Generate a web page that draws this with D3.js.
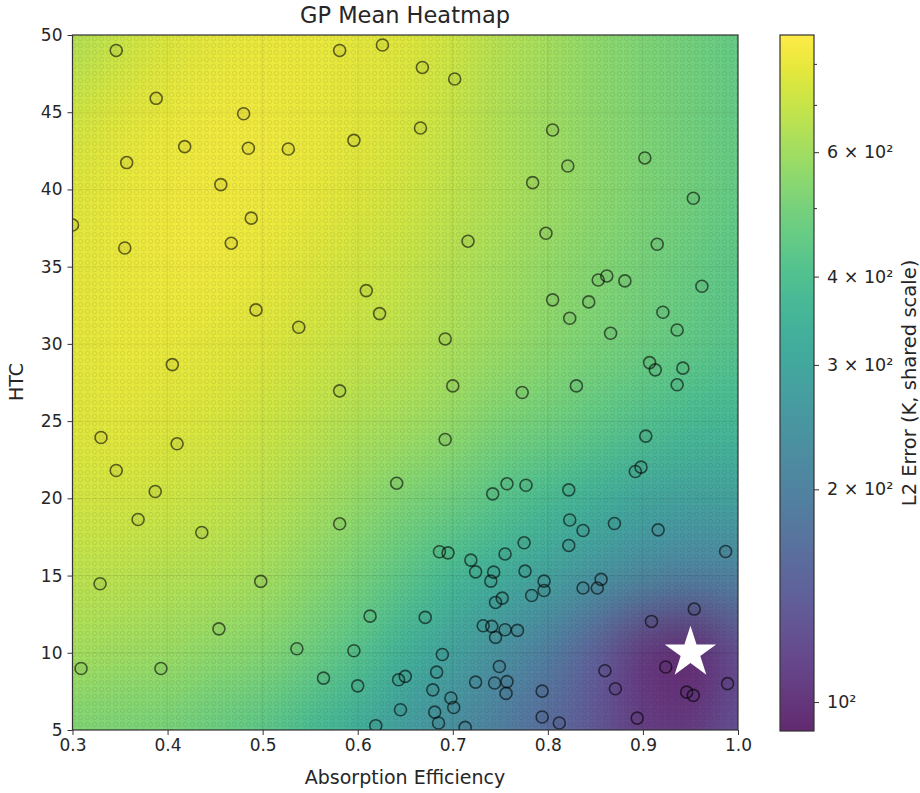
<!DOCTYPE html>
<html>
<head>
<meta charset="utf-8">
<script src="https://cdn.jsdelivr.net/npm/d3@7"></script>
<style>
    body { margin: 0; background: #fff; }
    svg text { font-family: "DejaVu Sans", sans-serif; fill: #262626; }
</style>
</head>
<body>
<div id="chart"></div>
<script>
// GP mean surface on a 0.05 x 5 grid (K)
const gridX = [0.3, 0.35, 0.4, 0.45, 0.5, 0.55, 0.6, 0.65, 0.7, 0.75, 0.8, 0.85, 0.9, 0.95, 1.0];
const gridY = [50, 45, 40, 35, 30, 25, 20, 15, 10, 5];
const meanGrid = [
    [640, 700, 750, 785, 803, 803, 785, 767, 717, 655, 612, 559, 521, 488, 455],
    [717, 767, 803, 821, 821, 803, 785, 750, 700, 640, 598, 559, 521, 488, 455],
    [767, 803, 821, 821, 821, 803, 767, 733, 685, 640, 598, 559, 521, 488, 455],
    [785, 803, 821, 821, 803, 767, 733, 700, 655, 612, 571, 534, 499, 466, 435],
    [785, 803, 803, 785, 767, 733, 700, 670, 626, 585, 546, 510, 477, 445, 416],
    [767, 785, 767, 750, 717, 685, 640, 612, 571, 521, 488, 445, 407, 380, 363],
    [733, 733, 717, 700, 670, 626, 571, 521, 477, 425, 380, 339, 303, 283, 283],
    [670, 670, 655, 640, 612, 559, 499, 435, 371, 324, 283, 247, 215, 197, 201],
    [612, 598, 585, 559, 534, 477, 416, 339, 283, 236, 192, 143, 104, 95, 120],
    [521, 510, 499, 466, 435, 380, 324, 270, 231, 192, 161, 131, 107, 104, 125]
];

// sampled points
const sampleX = [0.346, 0.581, 0.626, 0.388, 0.480, 0.418, 0.485, 0.527, 0.596, 0.357, 0.456, 0.488, 0.300, 0.355, 0.467,
    0.609, 0.623, 0.493, 0.538, 0.405,
    0.668, 0.702, 0.666, 0.805, 0.902, 0.821, 0.784, 0.953, 0.716, 0.798, 0.915, 0.862, 0.853, 0.881, 0.962, 0.805, 0.843,
    0.823, 0.921, 0.936, 0.866, 0.692, 0.907, 0.913, 0.942,
    0.581, 0.330, 0.410, 0.346, 0.387, 0.641, 0.369, 0.436, 0.581, 0.329, 0.498, 0.454, 0.613, 0.309, 0.393, 0.536, 0.596,
    0.564, 0.600, 0.643, 0.650, 0.645, 0.619,
    0.700, 0.773, 0.830, 0.936, 0.692, 0.903, 0.898, 0.892, 0.742, 0.757, 0.777, 0.822, 0.823, 0.837, 0.870, 0.916, 0.987,
    0.822, 0.775, 0.755, 0.686, 0.695, 0.719, 0.724, 0.743, 0.740, 0.776, 0.796, 0.796, 0.783, 0.837, 0.852, 0.856, 0.752,
    0.745, 0.954, 0.909, 0.671, 0.732, 0.741, 0.755, 0.768, 0.745, 0.689, 0.749, 0.683, 0.860, 0.924, 0.724, 0.744, 0.757,
    0.756, 0.679, 0.698, 0.701, 0.794, 0.871, 0.946, 0.953, 0.989, 0.681, 0.685, 0.713, 0.794, 0.812, 0.894];
const sampleY = [49.0, 49.0, 49.35, 45.9, 44.9, 42.77, 42.67, 42.62, 43.18, 41.74, 40.31, 38.14, 37.7, 36.21, 36.52,
    33.45, 31.96, 32.2, 31.08, 28.66,
    47.9, 47.15, 43.98, 43.85, 42.04, 41.52, 40.44, 39.43, 36.65, 37.16, 36.45, 34.4, 34.14, 34.08, 33.73, 32.85, 32.72,
    31.66, 32.05, 30.9, 30.69, 30.32, 28.79, 28.32, 28.43,
    26.96, 23.94, 23.53, 21.8, 20.44, 20.98, 18.63, 17.79, 18.35, 14.47, 14.62, 11.55, 12.37, 8.98, 8.98, 10.26, 10.13,
    8.36, 7.86, 8.25, 8.47, 6.31, 5.28,
    27.28, 26.85, 27.28, 27.35, 23.81, 24.03, 22.02, 21.74, 20.29, 20.94, 20.85, 20.55, 18.6, 17.92, 18.37, 17.96, 16.56,
    16.95, 17.12, 16.4, 16.54, 16.47, 16.0, 15.24, 15.22, 14.64, 15.29, 14.64, 14.03, 13.71, 14.19, 14.19, 14.75, 13.54,
    13.26, 12.83, 12.03, 12.29, 11.75, 11.71, 11.49, 11.45, 11.0, 9.89, 9.11, 8.75, 8.84, 9.08, 8.1, 8.04, 8.13,
    7.37, 7.6, 7.07, 6.46, 7.52, 7.67, 7.45, 7.24, 8.0, 6.16, 5.45, 5.17, 5.84, 5.45, 5.77];

const bestPoint = [0.95, 10.0];

const xTicks = [0.3, 0.4, 0.5, 0.6, 0.7, 0.8, 0.9, 1.0];
const yTicks = [5, 10, 15, 20, 25, 30, 35, 40, 45, 50];
const cbDomain = [91, 879];
const cbTicks = [100, 200, 300, 400, 600];
const cbMinorTicks = [500, 700, 800];

class HeatmapChart {

    init() {
        this.svg = d3.select('#chart').append('svg')
            .attr('width', 920)
            .attr('height', 793);

        this.x = d3.scaleLinear().domain([0.3, 1.0]).range([72.5, 738]);
        this.y = d3.scaleLinear().domain([5, 50]).range([730, 35]);
        this.color = d3.scaleSequentialLog(d3.interpolateViridis).domain(cbDomain);

        let defs = this.svg.append('defs');
        defs.append('clipPath').attr('id', 'plotClip')
            .append('rect')
            .attr('x', this.x(0.3)).attr('y', this.y(50))
            .attr('width', this.x(1.0) - this.x(0.3))
            .attr('height', this.y(5) - this.y(50));
        let pat = defs.append('pattern').attr('id', 'dots')
            .attr('width', 7).attr('height', 7)
            .attr('patternUnits', 'userSpaceOnUse');
        pat.append('circle').attr('cx', 3.5).attr('cy', 3.5).attr('r', 2.2)
            .attr('fill', 'none').attr('stroke', '#000').attr('stroke-opacity', 0.07);

        this.plot = this.svg.append('g').attr('clip-path', 'url(#plotClip)');

        this.drawHeatmap();
        this.drawPoints();
        this.drawAxes();
        this.drawColorbar();
    }

    drawHeatmap() {
        let small = document.createElement('canvas');
        small.width = gridX.length;
        small.height = gridY.length;
        let ctx = small.getContext('2d');
        meanGrid.forEach((row, j) => {
            row.forEach((v, i) => {
                ctx.fillStyle = this.color(v);
                ctx.fillRect(i, j, 1, 1);
            });
        });

        // grid values sit on cell centres, so the image overhangs by half a cell
        let cw = this.x(gridX[1]) - this.x(gridX[0]);
        let ch = this.y(gridY[1]) - this.y(gridY[0]);
        let big = document.createElement('canvas');
        big.width = Math.round(cw * gridX.length);
        big.height = Math.round(ch * gridY.length);
        let bctx = big.getContext('2d');
        bctx.imageSmoothingEnabled = true;
        bctx.imageSmoothingQuality = 'high';
        bctx.drawImage(small, 0, 0, big.width, big.height);

        this.plot.append('image')
            .attr('href', big.toDataURL())
            .attr('x', this.x(gridX[0]) - cw / 2)
            .attr('y', this.y(gridY[0]) - ch / 2)
            .attr('width', cw * gridX.length)
            .attr('height', ch * gridY.length)
            .attr('preserveAspectRatio', 'none')
            .attr('opacity', 0.84);

        this.plot.append('rect')
            .attr('x', this.x(0.3)).attr('y', this.y(50))
            .attr('width', this.x(1.0) - this.x(0.3))
            .attr('height', this.y(5) - this.y(50))
            .attr('fill', 'url(#dots)');

        // faint grid
        this.plot.selectAll('.vgrid').data(xTicks).enter().append('line')
            .attr('x1', d => this.x(d)).attr('x2', d => this.x(d))
            .attr('y1', this.y(5)).attr('y2', this.y(50))
            .attr('stroke', '#000').attr('stroke-opacity', 0.08);
        this.plot.selectAll('.hgrid').data(yTicks).enter().append('line')
            .attr('x1', this.x(0.3)).attr('x2', this.x(1.0))
            .attr('y1', d => this.y(d)).attr('y2', d => this.y(d))
            .attr('stroke', '#000').attr('stroke-opacity', 0.08);
    }

    drawPoints() {
        this.plot.selectAll('circle.sample').data(sampleX).enter().append('circle')
            .attr('class', 'sample')
            .attr('cx', d => this.x(d))
            .attr('cy', (d, i) => this.y(sampleY[i]))
            .attr('r', 6)
            .attr('fill', '#000')
            .attr('fill-opacity', 0.04)
            .attr('stroke', '#000')
            .attr('stroke-opacity', 0.58)
            .attr('stroke-width', 1.6);

        this.plot.append('path')
            .attr('d', d3.symbol(d3.symbolStar, 820)())
            .attr('transform', 'translate(' + this.x(bestPoint[0]) + ',' + this.y(bestPoint[1]) + ')')
            .attr('fill', '#fff');
    }

    drawAxes() {
        let xAxis = this.svg.append('g')
            .attr('transform', 'translate(0,' + this.y(5) + ')')
            .call(d3.axisBottom(this.x).tickValues(xTicks).tickFormat(d3.format('.1f')).tickSize(5).tickPadding(4));
        let yAxis = this.svg.append('g')
            .attr('transform', 'translate(' + this.x(0.3) + ',0)')
            .call(d3.axisLeft(this.y).tickValues(yTicks).tickFormat(d3.format('d')).tickSize(5).tickPadding(5));
        [xAxis, yAxis].forEach(ax => {
            ax.select('.domain').remove();
            ax.selectAll('line').attr('stroke', '#333');
            ax.selectAll('text').attr('font-size', 17).attr('fill', '#262626');
        });

        this.svg.append('rect')
            .attr('x', this.x(0.3)).attr('y', this.y(50))
            .attr('width', this.x(1.0) - this.x(0.3))
            .attr('height', this.y(5) - this.y(50))
            .attr('fill', 'none').attr('stroke', '#333').attr('stroke-width', 1.2);

        this.svg.append('text')
            .attr('x', 405).attr('y', 23)
            .attr('text-anchor', 'middle')
            .attr('font-size', 22.5)
            .text('GP Mean Heatmap');

        this.svg.append('text')
            .attr('x', 405).attr('y', 784)
            .attr('text-anchor', 'middle')
            .attr('font-size', 19)
            .text('Absorption Efficiency');

        this.svg.append('text')
            .attr('transform', 'translate(23,382) rotate(-90)')
            .attr('text-anchor', 'middle')
            .attr('font-size', 19)
            .text('HTC');
    }

    drawColorbar() {
        let top = 35, bottom = 731, left = 780, w = 34;
        let cbScale = d3.scaleLog().domain(cbDomain).range([bottom, top]);

        let grad = this.svg.select('defs').append('linearGradient')
            .attr('id', 'cbGrad')
            .attr('x1', 0).attr('y1', 1).attr('x2', 0).attr('y2', 0);
        d3.range(0, 41).forEach(k => {
            let py = bottom - (bottom - top) * k / 40;
            grad.append('stop')
                .attr('offset', (k / 40 * 100) + '%')
                .attr('stop-color', this.color(cbScale.invert(py)));
        });

        this.svg.append('rect')
            .attr('x', left).attr('y', top)
            .attr('width', w).attr('height', bottom - top)
            .attr('fill', 'url(#cbGrad)')
            .attr('opacity', 0.84);
        this.svg.append('rect')
            .attr('x', left).attr('y', top)
            .attr('width', w).attr('height', bottom - top)
            .attr('fill', 'none').attr('stroke', '#333').attr('stroke-width', 1.2);

        let fmt = v => v === 100 ? '10²' : (v / 100) + ' × 10²';
        let major = this.svg.append('g')
            .attr('transform', 'translate(' + (left + w) + ',0)')
            .call(d3.axisRight(cbScale).tickValues(cbTicks).tickFormat(fmt).tickSize(5).tickPadding(8));
        let minor = this.svg.append('g')
            .attr('transform', 'translate(' + (left + w) + ',0)')
            .call(d3.axisRight(cbScale).tickValues(cbMinorTicks).tickFormat('').tickSize(3));
        [major, minor].forEach(ax => {
            ax.select('.domain').remove();
            ax.selectAll('line').attr('stroke', '#333');
        });
        major.selectAll('text').attr('font-size', 17.5).attr('fill', '#262626');

        this.svg.append('text')
            .attr('transform', 'translate(916,383) rotate(-90)')
            .attr('text-anchor', 'middle')
            .attr('font-size', 19.5)
            .text('L2 Error (K, shared scale)');
    }
}

window.chart = new HeatmapChart();
window.chart.init();
</script>
</body>
</html>
